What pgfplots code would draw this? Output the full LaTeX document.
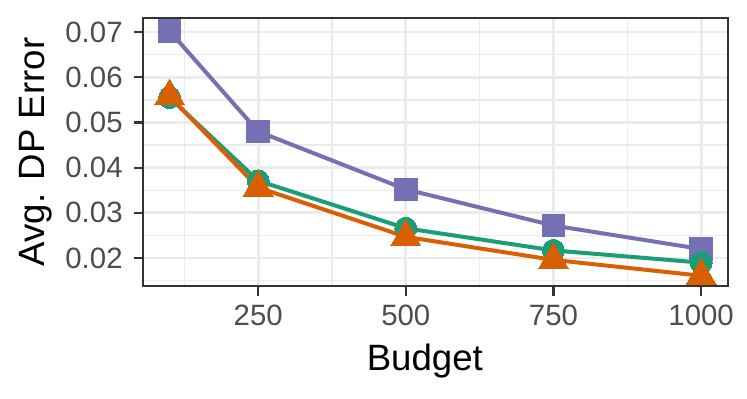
\documentclass[border=0pt]{standalone}
\usepackage{fontspec}
\setmainfont{Liberation Sans}
\usepackage{pgfplots}
\pgfplotsset{compat=1.18}
\definecolor{dkpurple}{HTML}{7570B3}
\definecolor{dkgreen}{HTML}{1B9E77}
\definecolor{dkorange}{HTML}{D95F02}
\definecolor{gridgray}{HTML}{EBEBEB}
\definecolor{framegray}{HTML}{333333}
\definecolor{ticktext}{HTML}{4D4D4D}

\begin{document}
\begin{tikzpicture}
  \begin{axis}[
    scale only axis, width=292.3bp, height=134bp,
    xmin=55, xmax=1045, ymin=0.01382, ymax=0.0731,
    xtick={250,500,750,1000},
    ytick={0.02,0.03,0.04,0.05,0.06,0.07},
    minor xtick={125,375,625,875},
    minor ytick={0.015,0.025,0.035,0.045,0.055,0.065},
    grid=both,
    major grid style={color=gridgray, line width=1.4bp},
    minor grid style={color=gridgray, line width=0.75bp},
    axis line style={color=framegray, line width=1.1bp},
    tick align=outside, tick pos=left,
    major tick length=4.75bp, minor tick length=0pt,
    major tick style={color=framegray, line width=1.1bp},
    scaled y ticks=false,
    /pgf/number format/1000 sep={},
    /pgf/number format/assume math mode=true,
    y tick label style={/pgf/number format/fixed,
      /pgf/number format/fixed zerofill, /pgf/number format/precision=2},
    tick label style={font=\fontsize{14.7bp}{17bp}\selectfont, text=ticktext},
    xticklabel style={anchor=north, inner sep=0pt, yshift=-4.75bp},
    yticklabel style={anchor=east, inner sep=0pt, xshift=-5.25bp},
    label style={font=\fontsize{18.3bp}{21bp}\selectfont, text=black},
    xlabel={Budget},
    ylabel={Avg. DP Error},
    xlabel style={at={(axis description cs:0.482,-0.316)}, anchor=base, inner sep=0pt},
    ylabel style={at={(axis description cs:-0.1688,0.5)}, anchor=base, inner sep=0pt},
  ]
  \addplot[dkpurple, line width=2bp, mark=square*, mark size=5.6bp,
           mark options={solid, fill=dkpurple, draw=dkpurple, line width=0pt}]
    coordinates {(100,0.0702) (250,0.0480) (500,0.0352) (750,0.0272) (1000,0.0220)};
  \addplot[dkgreen, line width=2bp, mark=*, mark size=5.5bp,
           mark options={solid, fill=dkgreen, draw=dkgreen, line width=0pt}]
    coordinates {(100,0.0555) (250,0.0371) (500,0.0266) (750,0.0217) (1000,0.0190)};
  \addplot[dkorange, line width=2bp, mark=triangle*, mark size=8.6bp,
           mark options={solid, fill=dkorange, draw=dkorange, line width=0pt}]
    coordinates {(100,0.0558) (250,0.0356) (500,0.0247) (750,0.0196) (1000,0.0161)};
  \end{axis}
  \pgfresetboundingbox
  \path[use as bounding box] (-71.5bp,-56bp) rectangle (301.95bp,143bp);
\end{tikzpicture}
\end{document}
